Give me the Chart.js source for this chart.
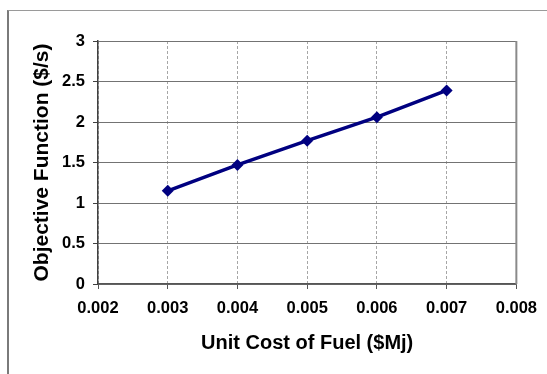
<!DOCTYPE html>
<html>
<head>
<meta charset="utf-8">
<script src="https://cdn.jsdelivr.net/npm/chart.js@4.4.1/dist/chart.umd.min.js"></script>
<style>
  html, body { margin: 0; padding: 0; background: #ffffff; overflow: hidden; }
  #frame {
    position: absolute; left: 7px; top: 10px; width: 700px; height: 500px;
    border-left: 2px solid #7a7a7a; border-top: 1px solid #9a9a9a;
  }
  #wrap { position: absolute; left: 0; top: 0; width: 547px; height: 374px; }
</style>
</head>
<body>
<div id="frame"></div>
<div id="wrap"><canvas id="chart" width="547" height="374"></canvas></div>
<script>
// Unit cost of fuel ($/MJ) against the resulting objective function ($/s)
const fuelCost = [0.003, 0.004, 0.005, 0.006, 0.007];
const objective = [1.15, 1.47, 1.77, 2.06, 2.39];

// Axis ticks
const xTickValues = [0.002, 0.003, 0.004, 0.005, 0.006, 0.007, 0.008];
const xTickLabels = ['0.002', '0.003', '0.004', '0.005', '0.006', '0.007', '0.008'];
const yTickValues = [0, 0.5, 1, 1.5, 2, 2.5, 3];
const yTickLabels = ['0', '0.5', '1', '1.5', '2', '2.5', '3'];

const FONT = "'Liberation Sans', Arial, sans-serif";

// Solid outline on the right edge of the plot area
const plotEdge = {
  id: 'plotEdge',
  afterDatasetsDraw(chart) {
    const {ctx, chartArea} = chart;
    ctx.save();
    ctx.strokeStyle = '#8a8a8a';
    ctx.lineWidth = 2;
    ctx.beginPath();
    ctx.moveTo(chartArea.right, chartArea.top);
    ctx.lineTo(chartArea.right, chartArea.bottom);
    ctx.stroke();
    ctx.restore();
  }
};

new Chart(document.getElementById('chart'), {
  type: 'line',
  data: {
    datasets: [{
      data: fuelCost.map((x, i) => ({x: x, y: objective[i]})),
      borderColor: '#000080',
      backgroundColor: '#000080',
      borderWidth: 3.5,
      pointStyle: 'rectRot',
      pointRadius: 6,
      pointHoverRadius: 6,
      pointBackgroundColor: '#000080',
      pointBorderColor: '#000080',
      pointBorderWidth: 0,
      tension: 0,
      fill: false
    }]
  },
  options: {
    responsive: false,
    animation: false,
    events: [],
    layout: { padding: { top: 41, right: 29, left: 0, bottom: 0 } },
    plugins: { legend: { display: false }, tooltip: { enabled: false } },
    scales: {
      x: {
        type: 'linear',
        min: 0.002,
        max: 0.008,
        afterBuildTicks(scale) { scale.ticks = xTickValues.map(v => ({value: v})); },
        afterFit(scale) { scale.height = 90; },
        ticks: {
          callback: (v, i) => xTickLabels[i],
          color: '#000000',
          font: { family: FONT, size: 16.5, weight: 'bold' },
          padding: 10,
          maxRotation: 0
        },
        grid: {
          color: '#a6a6a6',
          lineWidth: 1,
          tickLength: 5,
          tickColor: '#555555',
          tickBorderDash: [],
          tickWidth: 1
        },
        border: { display: true, color: '#555555', width: 1.5, dash: [3, 2] },
        title: {
          display: true,
          text: 'Unit Cost of Fuel ($Mj)',
          color: '#000000',
          font: { family: FONT, size: 20, weight: 'bold' },
          padding: { top: 0, bottom: 19 }
        }
      },
      y: {
        type: 'linear',
        min: 0,
        max: 3,
        afterBuildTicks(scale) { scale.ticks = yTickValues.map(v => ({value: v})); },
        afterFit(scale) { scale.width = 98; },
        ticks: {
          callback: (v, i) => yTickLabels[i],
          color: '#000000',
          font: { family: FONT, size: 16.5, weight: 'bold' },
          padding: 8
        },
        grid: {
          color: '#737373',
          lineWidth: 1,
          tickLength: 5,
          tickColor: '#404040',
          tickWidth: 1
        },
        border: { display: true, color: '#404040', width: 1.5 },
        title: {
          display: true,
          text: 'Objective Function ($/s)',
          color: '#000000',
          font: { family: FONT, size: 21, weight: 'bold' },
          padding: { top: 30, bottom: 0 }
        }
      }
    }
  },
  plugins: [plotEdge]
});
</script>
</body>
</html>
